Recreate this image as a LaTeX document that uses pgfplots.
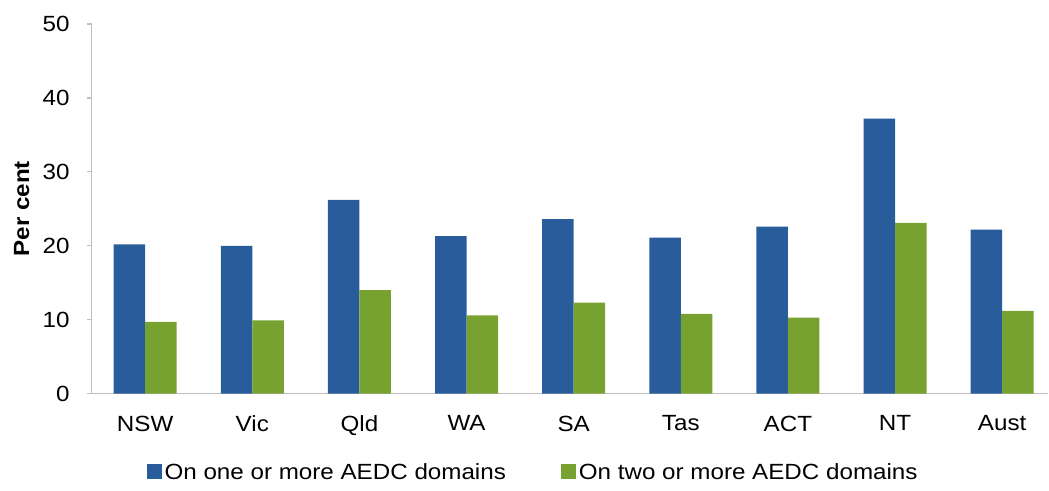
\documentclass[border=0pt]{standalone}
\usepackage{fontspec}
\setmainfont{Liberation Sans}[FakeStretch=1.1]
\usepackage{pgfplots}
\pgfplotsset{compat=1.18}
\definecolor{aedcblue}{HTML}{285C9B}
\definecolor{aedcgreen}{HTML}{78A22F}
\definecolor{axisgray}{HTML}{BFBFBF}
\begin{document}
\begin{tikzpicture}
  \begin{axis}[
      name=main,
      scale only axis,
      width=478.65pt, height=185pt,
      ybar=0pt, bar width=15.75pt,
      xmin=-0.5, xmax=8.43,
      ymin=0, ymax=50,
      ytick={0,10,...,50},
      xtick=data,
      xticklabels={NSW,Vic,Qld,WA,SA,Tas,ACT,NT,Aust},
      x tick style={draw=none},
      y tick style={axisgray, line width=0.6pt},
      tick align=outside,
      major tick length=2.5pt,
      axis x line*=bottom, axis y line*=left,
      axis line style={axisgray, line width=0.8pt, -},
      ticklabel style={font=\fontsize{11}{13}\selectfont},
      xticklabel style={yshift=-5pt},
      yticklabel style={xshift=-5pt},
      /pgf/number format/assume math mode=true,
      ylabel={\bfseries Per cent},
      ylabel style={font=\fontsize{11}{13}\selectfont, at={(-35pt,0.5)}, anchor=center},
      legend style={draw=none, font=\fontsize{11}{13}\selectfont,
        at={(0.462,-0.2135)}, anchor=center, legend columns=2,
        nodes={inner xsep=1.5pt},
        /tikz/every even column/.append style={column sep=26pt}},
      legend image code/.code={\fill[#1] (0pt,-3.2pt) rectangle (7.5pt,4.3pt);},
    ]
    \addplot[draw=none, fill=aedcblue] coordinates {
      (0,20.2) (1,20.0) (2,26.2) (3,21.3) (4,23.6)
      (5,21.1) (6,22.6) (7,37.2) (8,22.2)
    };
    \addlegendentry{On one or more AEDC domains}
    \addplot[draw=none, fill=aedcgreen] coordinates {
      (0,9.7) (1,9.9) (2,14.0) (3,10.6) (4,12.3)
      (5,10.8) (6,10.3) (7,23.1) (8,11.2)
    };
    \addlegendentry{On two or more AEDC domains}
  \end{axis}
  % frame of the whole chart, as in the reference
  \path ([xshift=-45.85pt,yshift=-45pt]main.south west)
        rectangle ([yshift=12pt]main.north east);
\end{tikzpicture}
\end{document}
